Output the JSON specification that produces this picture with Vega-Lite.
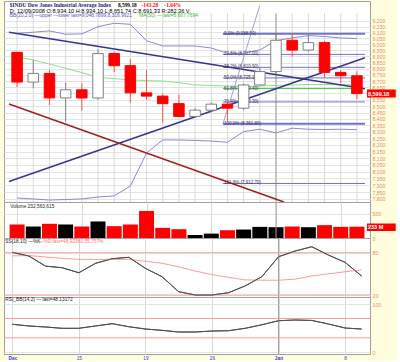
{
  "$schema": "https://vega.github.io/schema/vega-lite/v6.json",
  "background": "#ffffe0",
  "padding": {"left": 3, "top": 0, "right": 0, "bottom": 0},
  "spacing": 0,
  "bounds": "flush",
  "config": {
    "view": {"fill": "white", "stroke": "#a0a0a0"},
    "axis": {"labelFont": "Liberation Sans", "labelFontSize": 5.2, "labelColor": "#f08866", "ticks": false, "domain": false, "title": null, "gridColor": "#e4e4e4", "labelPadding": 2, "labelOverlap": false},
    "text": {"font": "Liberation Sans"},
    "concat": {"spacing": 0}
  },
  "datasets": {
    "d": [
      {"i":0,"date":"2008-12-09","o":8934.10,"h":8934.10,"l":8651.74,"c":8691.33,"v":277,"ub":9093,"lb":7807,"ma":8898,"k":80.5,"dd":75.5,"rsi":58},
      {"i":1,"date":"2008-12-10","o":8691.33,"h":8871,"l":8642,"c":8761.42,"v":236,"ub":9102,"lb":7800,"ma":8871,"k":75.3,"dd":76,"rsi":54.5},
      {"i":2,"date":"2008-12-11","o":8761.42,"h":8790,"l":8509,"c":8565.09,"v":292,"ub":9113,"lb":7792,"ma":8838,"k":61,"dd":74,"rsi":52.4},
      {"i":3,"date":"2008-12-12","o":8565.09,"h":8687,"l":8379,"c":8629.68,"v":277,"ub":9085,"lb":7796,"ma":8803,"k":58.7,"dd":72,"rsi":49.7},
      {"i":4,"date":"2008-12-15","o":8629.68,"h":8681,"l":8464,"c":8564.53,"v":236,"ub":9088,"lb":7800,"ma":8768,"k":51.6,"dd":70.6,"rsi":49.7},
      {"i":5,"date":"2008-12-16","o":8564.53,"h":8960,"l":8550,"c":8924.14,"v":340,"ub":9149,"lb":7814,"ma":8730,"k":65,"dd":70.5,"rsi":54.5},
      {"i":6,"date":"2008-12-17","o":8924.14,"h":8940,"l":8771,"c":8824.34,"v":243,"ub":9178,"lb":7822,"ma":8719,"k":71.5,"dd":70.6,"rsi":59.2},
      {"i":7,"date":"2008-12-18","o":8824.34,"h":8878,"l":8527,"c":8604.99,"v":277,"ub":9169,"lb":7894,"ma":8709,"k":73.5,"dd":70.6,"rsi":53},
      {"i":8,"date":"2008-12-19","o":8604.99,"h":8787,"l":8552,"c":8579.11,"v":556,"ub":9031,"lb":8139,"ma":8703,"k":57.8,"dd":68,"rsi":48.2},
      {"i":9,"date":"2008-12-22","o":8579.11,"h":8600,"l":8371,"c":8519.69,"v":208,"ub":8987,"lb":8238,"ma":8700,"k":46,"dd":65,"rsi":45.5},
      {"i":10,"date":"2008-12-23","o":8519.69,"h":8591,"l":8415,"c":8419.49,"v":181,"ub":8987,"lb":8238,"ma":8687,"k":24.7,"dd":60,"rsi":42},
      {"i":11,"date":"2008-12-24","o":8419.49,"h":8485,"l":8415,"c":8468.48,"v":62,"ub":8987,"lb":8234,"ma":8668,"k":20,"dd":54,"rsi":42},
      {"i":12,"date":"2008-12-26","o":8468.48,"h":8530,"l":8450,"c":8515.55,"v":90,"ub":8970,"lb":8230,"ma":8664,"k":20,"dd":49,"rsi":44},
      {"i":13,"date":"2008-12-29","o":8515.55,"h":8530,"l":8380,"c":8483.93,"v":160,"ub":8926,"lb":8220,"ma":8660,"k":23.3,"dd":45,"rsi":44.7},
      {"i":14,"date":"2008-12-30","o":8483.93,"h":8680,"l":8470,"c":8668.39,"v":174,"ub":8926,"lb":8302,"ma":8657,"k":33,"dd":41.5,"rsi":49.7},
      {"i":15,"date":"2008-12-31","o":8668.39,"h":8810,"l":8660,"c":8776.39,"v":229,"ub":8954,"lb":8320,"ma":8660,"k":46,"dd":41,"rsi":57},
      {"i":16,"date":"2009-01-02","o":8776.39,"h":9093,"l":8760,"c":9034.69,"v":222,"ub":9031,"lb":8292,"ma":8664,"k":74.3,"dd":41,"rsi":65.4},
      {"i":17,"date":"2009-01-05","o":9034.69,"h":9080,"l":8898,"c":8952.89,"v":236,"ub":9054,"lb":8328,"ma":8668,"k":82.4,"dd":42.5,"rsi":66.9},
      {"i":18,"date":"2009-01-06","o":8952.89,"h":9088.5,"l":8940,"c":9015.10,"v":222,"ub":9073,"lb":8320,"ma":8672,"k":88.5,"dd":47,"rsi":66},
      {"i":19,"date":"2009-01-07","o":9015.10,"h":9030,"l":8726,"c":8769.70,"v":264,"ub":9066,"lb":8318,"ma":8672,"k":76.7,"dd":50,"rsi":58.6},
      {"i":20,"date":"2009-01-08","o":8769.70,"h":8788,"l":8681,"c":8742.46,"v":229,"ub":9054,"lb":8320,"ma":8670,"k":66.4,"dd":53,"rsi":50.3},
      {"i":21,"date":"2009-01-09","o":8742.46,"h":8780,"l":8556,"c":8599.18,"v":232.6,"ub":9048.79,"lb":8316.99,"ma":8667.77,"k":46.92,"dd":55.76,"rsi":48.13}
    ],
    "tl": [
      {"n":"a","i":-0.5,"p":9101.7},{"n":"a","i":21.5,"p":8638.6},
      {"n":"b","i":-0.5,"p":7927.3},{"n":"b","i":21.5,"p":8890},
      {"n":"c","i":-0.5,"p":8517.2},{"n":"c","i":16.49,"p":7778},
      {"n":"f","i":12.72,"p":8361.8},{"n":"f","i":15.0,"p":9330}
    ],
    "fib": [
      {"lvl":"0.0%","p":9088.50,"txt":"0.0% (9,088.50)"},
      {"lvl":"23.6%","p":8917.00,"txt":"23.6% (8,917.00)"},
      {"lvl":"38.2%","p":8810.90,"txt":"38.2% (8,810.90)"},
      {"lvl":"50.0%","p":8725.15,"txt":"50.0% (8,725.15)"},
      {"lvl":"61.8%","p":8639.40,"txt":"61.8% (8,639.40)"},
      {"lvl":"76.4%","p":8533.30,"txt":"76.4% (8,533.30)"},
      {"lvl":"100.0%","p":8361.80,"txt":"100.0% (8,361.80)"},
      {"lvl":"161.8%","p":7912.70,"txt":"161.8% (7,912.70)"}
    ],
    "one": [{}]
  },
  "vconcat": [
    {
      "width": 366, "height": 201,
      "layer": [
        {"data":{"name":"d"},"mark":{"type":"rule","color":"#d8d8d8","strokeWidth":1},
         "encoding":{"x":{"field":"i","type":"quantitative","scale":{"domain":[-0.5,21.5],"nice":false,"zero":false},"axis":null},
                     "y":{"datum":7778},"y2":{"datum":9262}}},
        {"data":{"name":"d"},"transform":[{"filter":"datum.i == 16"}],"mark":{"type":"rule","color":"#a0a0a0","strokeWidth":1},
         "encoding":{"x":{"field":"i","type":"quantitative"},"y":{"datum":7778},"y2":{"datum":9262}}},
        {"data":{"name":"one"},"mark":{"type":"rule","color":"#e4e4e4"},"encoding":{"y":{"datum":8600}}},
        {"data":{"name":"d"},"mark":{"type":"line","color":"#8a8ad2","strokeWidth":1},
         "encoding":{"x":{"field":"i","type":"quantitative"},
                     "y":{"field":"ub","type":"quantitative","scale":{"type":"log","domain":[7778,9369],"nice":false},
                          "axis":{"orient":"right","grid":true,"format":",d","labelOverlap":false,
                                  "values":[7800,7850,7900,7950,8000,8050,8100,8150,8200,8250,8300,8350,8400,8450,8500,8550,8650,8700,8750,8800,8850,8900,8950,9000,9050,9100,9150,9200]}}}},
        {"data":{"name":"d"},"mark":{"type":"line","color":"#8a8ad2","strokeWidth":1},
         "encoding":{"x":{"field":"i","type":"quantitative"},"y":{"field":"lb","type":"quantitative"}}},
        {"data":{"name":"d"},"mark":{"type":"line","color":"#8ee08e","strokeWidth":1},
         "encoding":{"x":{"field":"i","type":"quantitative"},"y":{"field":"ma","type":"quantitative"}}},
        {"data":{"name":"fib"},"mark":{"type":"rule"},
         "encoding":{"x":{"datum":12.72},"x2":{"datum":21.5},"y":{"field":"p","type":"quantitative"},
                     "color":{"condition":{"test":"datum.lvl == '61.8%'","value":"#44cc44"},"value":"#7272c8"},
                     "strokeWidth":{"condition":{"test":"datum.lvl == '0.0%' || datum.lvl == '100.0%'","value":2},"value":1}}},
        {"data":{"name":"fib"},"mark":{"type":"text","align":"left","baseline":"middle","fontSize":4.5,"color":"#333355","dx":1},
         "encoding":{"x":{"datum":12.72},"y":{"field":"p","type":"quantitative"},"text":{"field":"txt"}}},
        {"data":{"name":"tl"},"mark":{"type":"line"},
         "encoding":{"x":{"field":"i","type":"quantitative"},"y":{"field":"p","type":"quantitative"},
                     "color":{"field":"n","type":"nominal","legend":null,"scale":{"domain":["a","b","c","f"],"range":["#36368c","#36368c","#a02020","#8888d0"]}},
                     "strokeWidth":{"condition":{"test":"datum.n == 'f'","value":0.8},"value":1.5}}},
        {"data":{"name":"d"},"mark":{"type":"rule","strokeWidth":1},
         "encoding":{"x":{"field":"i","type":"quantitative"},"y":{"field":"l","type":"quantitative"},"y2":{"field":"h"},
                     "color":{"condition":{"test":"datum.c < datum.o","value":"#ff5050"},"value":"#808080"}}},
        {"data":{"name":"d"},"mark":{"type":"bar","width":10.5,"strokeWidth":1},
         "encoding":{"x":{"field":"i","type":"quantitative"},"y":{"field":"o","type":"quantitative"},"y2":{"field":"c"},
                     "fill":{"condition":{"test":"datum.c < datum.o","value":"#ff0000"},"value":"#ffffff"},
                     "stroke":{"condition":{"test":"datum.c < datum.o","value":"#ff0000"},"value":"#808080"}}},
        {"data":{"name":"one"},"mark":{"type":"rect","color":"#ff0000"},
         "encoding":{"x":{"datum":21.62},"x2":{"datum":23.4},"y":{"datum":8632},"y2":{"datum":8568}}},
        {"data":{"name":"one"},"mark":{"type":"text","align":"left","baseline":"middle","fontSize":5.5,"fontWeight":"bold","color":"#ffffff","dx":1,"text":"8,599.18"},
         "encoding":{"x":{"datum":21.62},"y":{"datum":8599.18}}},
        {"data":{"name":"one"},"mark":{"type":"text","align":"left","baseline":"middle","font":"Liberation Serif","fontSize":5.4,"fontWeight":"bold","color":"#1a1a6e","text":"$INDU Dow Jones Industrial Average Index"},
         "encoding":{"x":{"datum":-0.45},"y":{"datum":9334.7}}},
        {"data":{"name":"one"},"mark":{"type":"text","align":"left","baseline":"middle","font":"Liberation Serif","fontSize":5.4,"fontWeight":"bold","color":"#000000","text":"8,599.18"},
         "encoding":{"x":{"datum":6.23},"y":{"datum":9334.7}}},
        {"data":{"name":"one"},"mark":{"type":"text","align":"left","baseline":"middle","font":"Liberation Serif","fontSize":5.4,"fontWeight":"bold","color":"#ff0000","text":"-143.28"},
         "encoding":{"x":{"datum":7.69},"y":{"datum":9334.7}}},
        {"data":{"name":"one"},"mark":{"type":"text","align":"left","baseline":"middle","font":"Liberation Serif","fontSize":5.4,"fontWeight":"bold","color":"#ff0000","text":"-1.64%"},
         "encoding":{"x":{"datum":9.1},"y":{"datum":9334.7}}},
        {"data":{"name":"one"},"mark":{"type":"text","align":"left","baseline":"middle","fontSize":5.6,"color":"#000000","text":"D: 12/09/2008 O:8,934.10 H:8,934.10 L:8,651.74 C:8,691.33 R:282.36 V:"},
         "encoding":{"x":{"datum":-0.45},"y":{"datum":9283}}},
        {"data":{"name":"one"},"mark":{"type":"text","align":"left","baseline":"middle","fontSize":4.9,"color":"#5555bb","text":"BB(20,2.0) —upper —lower last=9,048.7899,8,316.9921"},
         "encoding":{"x":{"datum":-0.45},"y":{"datum":9236}}},
        {"data":{"name":"one"},"mark":{"type":"text","align":"left","baseline":"middle","fontSize":4.9,"color":"#33bb33","text":"MA(50) — last=8,667.7694"},
         "encoding":{"x":{"datum":7.55},"y":{"datum":9236}}}
      ]
    },
    {
      "width": 366, "height": 36,
      "layer": [
        {"data":{"name":"d"},"mark":{"type":"bar","width":15},
         "encoding":{"x":{"field":"i","type":"quantitative","scale":{"domain":[-0.5,21.5],"nice":false,"zero":false},
                          "axis":{"grid":true,"labels":false,"gridColor":"#d8d8d8","values":[0,1,2,3,4,5,6,7,8,9,10,11,12,13,14,15,16,17,18,19,20,21]}},
                     "y":{"field":"v","type":"quantitative","scale":{"domain":[0,740],"nice":false},"axis":{"orient":"right","grid":true,"values":[0,500]}},
                     "color":{"condition":{"test":"datum.c < datum.o","value":"#ff0000"},"value":"#000000"}}},
        {"data":{"name":"d"},"transform":[{"filter":"datum.i == 16"}],"mark":{"type":"rule","color":"#a0a0a0"},
         "encoding":{"x":{"field":"i","type":"quantitative"}}},
        {"data":{"name":"one"},"mark":{"type":"text","align":"left","baseline":"middle","fontSize":4.8,"color":"#222222","text":"Volume 232,563,615"},
         "encoding":{"x":{"datum":-0.42},"y":{"datum":643}}},
        {"data":{"name":"one"},"mark":{"type":"rect","color":"#ff0000"},
         "encoding":{"x":{"datum":21.62},"x2":{"datum":23.4},"y":{"datum":298},"y2":{"datum":144}}},
        {"data":{"name":"one"},"mark":{"type":"text","align":"left","baseline":"middle","fontSize":5.5,"fontWeight":"bold","color":"#ffffff","dx":1,"text":"233 M"},
         "encoding":{"x":{"datum":21.62},"y":{"datum":221}}}
      ]
    },
    {
      "width": 366, "height": 59,
      "layer": [
        {"data":{"name":"d"},"mark":{"type":"line","color":"#505050","strokeWidth":1},
         "encoding":{"x":{"field":"i","type":"quantitative","scale":{"domain":[-0.5,21.5],"nice":false,"zero":false},
                          "axis":{"grid":true,"labels":false,"gridColor":"#d8d8d8","values":[0,1,2,3,4,5,6,7,8,9,10,11,12,13,14,15,16,17,18,19,20,21]}},
                     "y":{"field":"k","type":"quantitative","scale":{"domain":[17.2,100.9],"nice":false,"zero":false},
                          "axis":{"orient":"right","grid":true,"values":[20,30,40,50,60,70,80]}}}},
        {"data":{"name":"d"},"transform":[{"filter":"datum.i == 16"}],"mark":{"type":"rule","color":"#a0a0a0"},
         "encoding":{"x":{"field":"i","type":"quantitative"}}},
        {"data":{"name":"one"},"mark":{"type":"rule","color":"#ff9a9a"},"encoding":{"y":{"datum":80}}},
        {"data":{"name":"one"},"mark":{"type":"rule","color":"#ff9a9a"},"encoding":{"y":{"datum":20}}},
        {"data":{"name":"d"},"mark":{"type":"line","color":"#ff9a9a","strokeWidth":1},
         "encoding":{"x":{"field":"i","type":"quantitative"},"y":{"field":"dd","type":"quantitative"}}},
        {"data":{"name":"d"},"mark":{"type":"line","color":"#505050","strokeWidth":1},
         "encoding":{"x":{"field":"i","type":"quantitative"},"y":{"field":"k","type":"quantitative"}}},
        {"data":{"name":"one"},"mark":{"type":"text","align":"left","baseline":"middle","fontSize":4.8,"color":"#222222","text":"SS(18,10) —%K"},
         "encoding":{"x":{"datum":-0.42},"y":{"datum":94.8}}},
        {"data":{"name":"one"},"mark":{"type":"text","align":"left","baseline":"middle","fontSize":4.8,"color":"#ff7070","text":"—%D last=46.92360,55.757%"},
         "encoding":{"x":{"datum":1.6},"y":{"datum":94.8}}}
      ]
    },
    {
      "width": 366, "height": 57,
      "layer": [
        {"data":{"name":"d"},"mark":{"type":"line","color":"#505050","strokeWidth":1},
         "encoding":{"x":{"field":"i","type":"quantitative","scale":{"domain":[-0.5,21.5],"nice":false,"zero":false},
                          "axis":{"grid":true,"gridColor":"#d8d8d8","labelColor":"#3333ee","labelFontSize":4.8,"labelPadding":1,
                                  "labelFontWeight":{"condition":{"test":"datum.value == 0 || datum.value == 16","value":"bold"},"value":"normal"},
                                  "values":[0,1,2,3,4,5,6,7,8,9,10,11,12,13,14,15,16,17,18,19,20,21],
                                  "labelExpr":"['Dec','10','11','12','15','16','17','18','19','22','23','24','26','29','30','31','Jan','5','6','7','8','9'][datum.value]"}},
                     "y":{"field":"rsi","type":"quantitative","scale":{"domain":[-3.5,114.5],"nice":false,"zero":false},
                          "axis":{"orient":"right","grid":true,"values":[0,25,50,75,100]}}}},
        {"data":{"name":"d"},"transform":[{"filter":"datum.i == 16"}],"mark":{"type":"rule","color":"#a0a0a0"},
         "encoding":{"x":{"field":"i","type":"quantitative"}}},
        {"data":{"name":"one"},"mark":{"type":"rule","color":"#ff9a9a"},"encoding":{"y":{"datum":70}}},
        {"data":{"name":"one"},"mark":{"type":"rule","color":"#ff9a9a"},"encoding":{"y":{"datum":30}}},
        {"data":{"name":"d"},"mark":{"type":"line","color":"#505050","strokeWidth":1},
         "encoding":{"x":{"field":"i","type":"quantitative"},"y":{"field":"rsi","type":"quantitative"}}},
        {"data":{"name":"one"},"mark":{"type":"text","align":"left","baseline":"middle","fontSize":4.8,"color":"#222222","text":"RSI_BB(14,2) — last=48.13172"},
         "encoding":{"x":{"datum":-0.42},"y":{"datum":108.3}}}
      ]
    }
  ]
}
